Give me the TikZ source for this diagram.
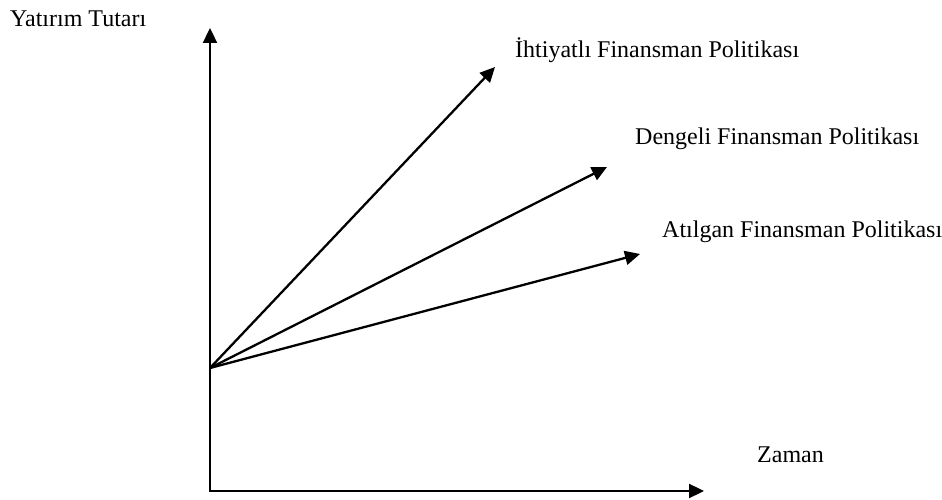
\documentclass[tikz,border=0pt]{standalone}
\usepackage{fontspec}
\setmainfont{Liberation Serif}
\usetikzlibrary{arrows.meta}
\begin{document}
\begin{tikzpicture}[x=1pt,y=1pt,
  axis/.style={line width=2.3pt,-{Triangle[length=15pt,width=14pt]}},
  ray/.style={line width=2.3pt,-{Triangle[length=15pt,width=14pt]}},
  lbl/.style={inner sep=0pt,anchor=base west,font=\fontsize{24}{28}\selectfont}]
\useasboundingbox (0,0) rectangle (942,500);
\coordinate (O) at (210,9);
\coordinate (Ytop) at (210,472);
\coordinate (Xend) at (704,9);
\coordinate (R) at (210,132);
\coordinate (T1) at (495,433);
\coordinate (T2) at (607,333);
\coordinate (T3) at (640,246);
\draw[line width=2.3pt] (O) -- (R);
\draw[axis] ([yshift=-1.15pt]O) -- (Ytop);
\draw[axis] ([xshift=-1.15pt]O) -- (Xend);
\draw[ray] (R) -- (T1);
\draw[ray] (R) -- (T2);
\draw[ray] (R) -- (T3);
\node[lbl] (ylab) at (10,473) {Yatırım Tutarı};
\node[lbl] (l1) at (515,442) {İhtiyatlı Finansman Politikası};
\node[lbl] (l2) at (635,355) {Dengeli Finansman Politikası};
\node[lbl] (l3) at (662,262) {Atılgan Finansman Politikası};
\node[lbl] (xlab) at (757,37) {Zaman};
\end{tikzpicture}
\end{document}
